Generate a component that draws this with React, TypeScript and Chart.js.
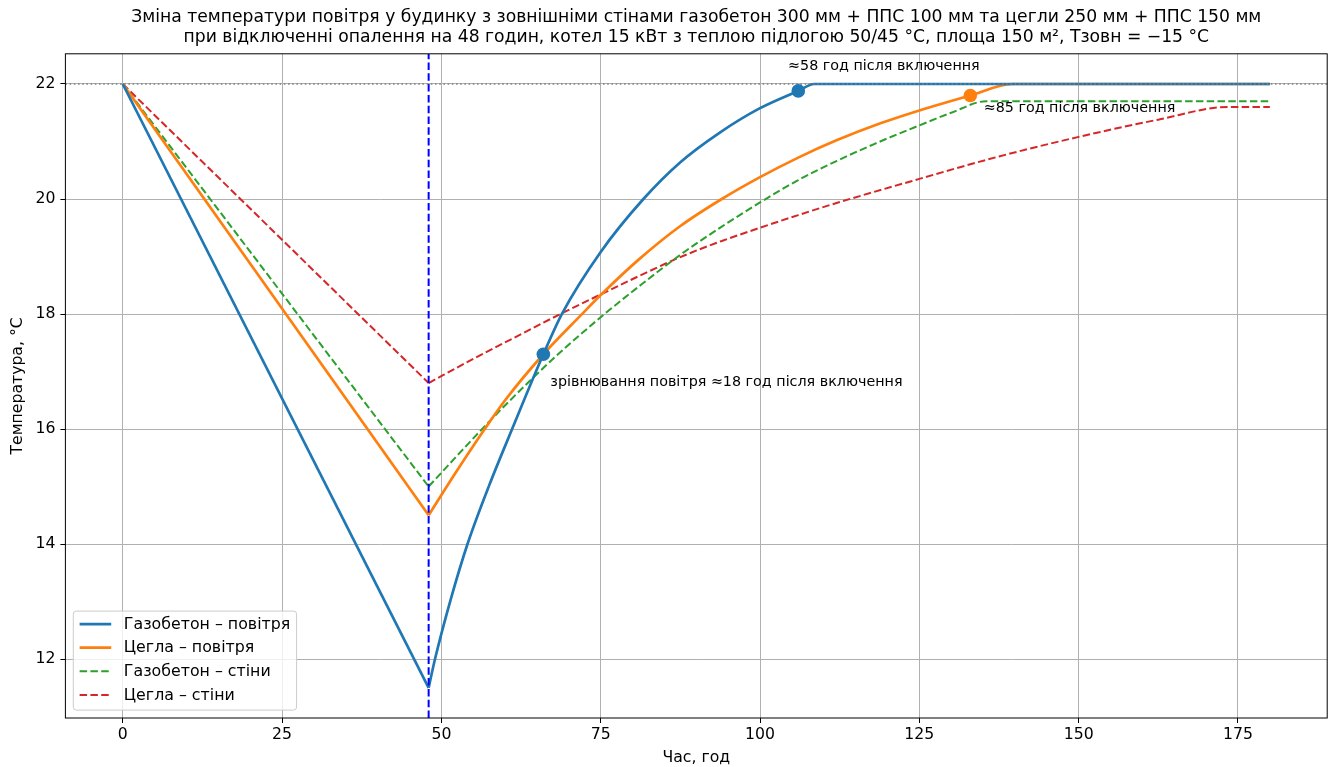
import React, { useEffect, useRef } from "react";
import { Chart, registerables } from "chart.js";

Chart.register(...registerables);

// ---------- text ----------
const titleLines = [
  "Зміна температури повітря у будинку з зовнішніми стінами газобетон 300 мм + ППС 100 мм та цегли 250 мм + ППС 150 мм",
  "при відключенні опалення на 48 годин, котел 15 кВт з теплою підлогою 50/45 °C, площа 150 м², Тзовн = −15 °C",
];
const xAxisTitle = "Час, год";
const yAxisTitle = "Температура, °C";
const seriesLabels = ["Газобетон – повітря", "Цегла – повітря", "Газобетон – стіни", "Цегла – стіни"];

// ---------- ticks / limits ----------
const xTicks = [0, 25, 50, 75, 100, 125, 150, 175];
const yTicks = [12, 14, 16, 18, 20, 22];
const xMin = -9;
const xMax = 189;
const yMin = 10.975;
const yMax = 22.525;

// ---------- reference values ----------
const targetTemp = 22;
const heatingOffHours = 48;

// ---------- cooling phase (heating off) ----------
const dropHours = [0, 48];
const gasAirDrop = [22, 11.5];
const brickAirDrop = [22, 14.5];
const gasWallDrop = [22, 15.0];
const brickWallDrop = [22, 16.8];

// ---------- heating phase ----------
const gasAirHours = [48, 49, 51.5, 54.1, 57.5, 61.1, 66, 68.9, 75, 81.7, 87.5, 93.75, 100, 106, 108.5, 180];
const gasAirTemps = [11.5, 12.0, 13.05, 14.0, 15.02, 16.0, 17.3, 18.0, 19.08, 20.0, 20.64, 21.16, 21.58, 21.88, 22.0, 22.0];

const brickAirHours = [48, 52, 56.8, 60, 66, 71.9, 75, 81, 87.5, 94, 100, 106, 112, 119, 125, 133, 139.6, 180];
const brickAirTemps = [14.5, 15.2, 16.0, 16.5, 17.3, 17.98, 18.33, 18.95, 19.53, 20.0, 20.38, 20.72, 21.02, 21.32, 21.54, 21.8, 22.0, 22.0];

const gasWallHours = [48, 52, 56.3, 60.7, 64.1, 68, 75.6, 81, 87.5, 94, 100, 106, 112, 118, 125, 130, 135.5, 180];
const gasWallTemps = [15.0, 15.48, 15.99, 16.49, 16.86, 17.27, 18.0, 18.48, 19.03, 19.52, 19.94, 20.33, 20.66, 20.96, 21.28, 21.5, 21.7, 21.7];

const brickWallHours = [48, 55, 62, 68.5, 75, 81, 87.5, 94, 100, 106, 112, 125, 137.5, 150, 162.5, 173.5, 180];
const brickWallTemps = [16.8, 17.22, 17.62, 17.99, 18.34, 18.66, 18.99, 19.27, 19.5, 19.72, 19.93, 20.35, 20.74, 21.08, 21.38, 21.6, 21.6];

// ---------- markers ----------
const gasMarkerHours = [66, 106];
const gasMarkerTemps = [17.3, 21.88];
const brickMarkerHours = [133];
const brickMarkerTemps = [21.8];

// ---------- annotations ----------
const annotationTexts = [
  "≈58 год після включення",
  "≈85 год після включення",
  "зрівнювання повітря ≈18 год після включення",
];
const annotationHours = [104.4, 135.1, 67.1];
const annotationTemps = [22.31, 21.58, 16.82];

const FONT = '"DejaVu Sans", "Noto Sans", sans-serif';
const BLUE = "#1f77b4";
const ORANGE = "#ff7f0e";
const GREEN = "#2ca02c";
const RED = "#d62728";

const TICK_FONT = 15.7;
const LABEL_FONT = 15.7;
const LEGEND_FONT = 15.8;
const ANNOT_FONT = 14.3;
const TITLE_FONT = 17.2;

const pts = (xs: number[], ys: number[]) => xs.map((x, i) => ({ x, y: ys[i] }));

const decorPlugin = {
  id: "decor",
  afterDraw(chart: any) {
    const { ctx, chartArea: ca, scales } = chart;
    const xs = scales.x;
    const ys = scales.y;
    ctx.save();

    // spines
    ctx.strokeStyle = "#000";
    ctx.lineWidth = 1;
    ctx.setLineDash([]);
    ctx.strokeRect(ca.left, ca.top, ca.right - ca.left, ca.bottom - ca.top);

    // title
    ctx.fillStyle = "#000";
    ctx.font = `${TITLE_FONT}px ${FONT}`;
    ctx.textAlign = "center";
    ctx.textBaseline = "middle";
    const cx = (ca.left + ca.right) / 2;
    ctx.fillText(titleLines[0], cx, 18);
    ctx.fillText(titleLines[1], cx, 37.5);

    // annotations
    ctx.font = `${ANNOT_FONT}px ${FONT}`;
    ctx.textAlign = "left";
    annotationTexts.forEach((t, i) => {
      ctx.fillText(t, xs.getPixelForValue(annotationHours[i]), ys.getPixelForValue(annotationTemps[i]));
    });

    // legend
    const fs = LEGEND_FONT;
    const legendColors = [BLUE, ORANGE, GREEN, RED];
    const legendDash = [[], [], [7.5, 3.3], [7.5, 3.3]];
    const legendWidths = [2.7, 2.7, 2, 2];
    ctx.font = `${fs}px ${FONT}`;
    let maxW = 0;
    seriesLabels.forEach((l) => (maxW = Math.max(maxW, ctx.measureText(l).width)));
    const pad = 0.4 * fs;
    const handleLen = 2 * fs;
    const handleGap = 0.8 * fs;
    const bx = ca.left + 0.5 * fs;
    const rowH = 23.6;
    const bh = 99;
    const by = ca.bottom - 0.5 * fs - bh;
    const bw = pad + handleLen + handleGap + maxW + pad;
    ctx.beginPath();
    if (ctx.roundRect) ctx.roundRect(bx, by, bw, bh, 3);
    else ctx.rect(bx, by, bw, bh);
    ctx.fillStyle = "rgba(255,255,255,0.8)";
    ctx.fill();
    ctx.strokeStyle = "#cccccc";
    ctx.lineWidth = 1;
    ctx.stroke();
    seriesLabels.forEach((l, i) => {
      const ry = by + 13 + i * rowH;
      ctx.beginPath();
      ctx.setLineDash(legendDash[i]);
      ctx.strokeStyle = legendColors[i];
      ctx.lineWidth = legendWidths[i];
      ctx.moveTo(bx + pad, ry);
      ctx.lineTo(bx + pad + handleLen, ry);
      ctx.stroke();
      ctx.setLineDash([]);
      ctx.fillStyle = "#000";
      ctx.textAlign = "left";
      ctx.textBaseline = "middle";
      ctx.fillText(l, bx + pad + handleLen + handleGap, ry + 0.5);
    });

    ctx.restore();
  },
};

export default function App() {
  const ref = useRef<HTMLCanvasElement | null>(null);

  useEffect(() => {
    document.body.style.margin = "0";
    const canvas = ref.current;
    if (!canvas) return;

    const solid = (color: string) => ({
      borderColor: color,
      backgroundColor: color,
      borderWidth: 2.7,
      pointRadius: 0,
      fill: false,
      cubicInterpolationMode: "monotone" as const,
      order: 2,
    });
    const dashed = (color: string) => ({
      borderColor: color,
      backgroundColor: color,
      borderWidth: 2,
      borderDash: [7.5, 3.3],
      pointRadius: 0,
      fill: false,
      cubicInterpolationMode: "monotone" as const,
      order: 2,
    });

    const axisCommon = {
      border: { display: false },
      grid: {
        color: "#b0b0b0",
        lineWidth: 1,
        drawTicks: true,
        tickLength: 5,
        tickColor: "#000",
        tickWidth: 1,
      },
    };

    const chart = new Chart(canvas, {
      type: "line",
      data: {
        datasets: [
          // markers (on top)
          {
            data: pts(gasMarkerHours, gasMarkerTemps),
            showLine: false,
            pointRadius: 6.8,
            pointBackgroundColor: BLUE,
            pointBorderColor: BLUE,
            pointBorderWidth: 0,
            order: 0,
          } as any,
          {
            data: pts(brickMarkerHours, brickMarkerTemps),
            showLine: false,
            pointRadius: 6.8,
            pointBackgroundColor: ORANGE,
            pointBorderColor: ORANGE,
            pointBorderWidth: 0,
            order: 0,
          } as any,
          // reference lines
          {
            data: pts([xMin, xMax], [targetTemp, targetTemp]),
            borderColor: "#808080",
            borderWidth: 1.6,
            borderDash: [1.6, 2.6],
            pointRadius: 0,
            order: 1,
          } as any,
          {
            data: pts([heatingOffHours, heatingOffHours], [yMin, yMax]),
            borderColor: "#0000ff",
            borderWidth: 2,
            borderDash: [7.5, 3.3],
            pointRadius: 0,
            order: 1,
          } as any,
          // series
          { label: seriesLabels[0], data: pts(dropHours, gasAirDrop), ...solid(BLUE) },
          { label: seriesLabels[0], data: pts(gasAirHours, gasAirTemps), ...solid(BLUE) },
          { label: seriesLabels[1], data: pts(dropHours, brickAirDrop), ...solid(ORANGE) },
          { label: seriesLabels[1], data: pts(brickAirHours, brickAirTemps), ...solid(ORANGE) },
          { label: seriesLabels[2], data: pts(dropHours, gasWallDrop), ...dashed(GREEN) },
          { label: seriesLabels[2], data: pts(gasWallHours, gasWallTemps), ...dashed(GREEN) },
          { label: seriesLabels[3], data: pts(dropHours, brickWallDrop), ...dashed(RED) },
          { label: seriesLabels[3], data: pts(brickWallHours, brickWallTemps), ...dashed(RED) },
        ] as any,
      },
      options: {
        animation: false,
        responsive: false,
        devicePixelRatio: 1,
        layout: { padding: { top: 53.8, right: 1.4, left: 0, bottom: 0 } },
        plugins: {
          legend: { display: false },
          tooltip: { enabled: false },
          title: { display: false },
        },
        elements: { line: { tension: 0 } },
        scales: {
          x: {
            type: "linear",
            min: xMin,
            max: xMax,
            afterBuildTicks: (scale: any) => {
              scale.ticks = xTicks.map((v) => ({ value: v }));
            },
            afterFit: (scale: any) => {
              scale.height = 49;
            },
            ...axisCommon,
            ticks: {
              color: "#000",
              font: { family: FONT, size: TICK_FONT },
              padding: 2.5,
              maxRotation: 0,
              autoSkip: false,
              callback: (v: any) => String(v),
            },
            title: {
              display: true,
              text: xAxisTitle,
              color: "#000",
              font: { family: FONT, size: LABEL_FONT },
              padding: { top: 0, bottom: 0 },
            },
          },
          y: {
            type: "linear",
            min: yMin,
            max: yMax,
            afterBuildTicks: (scale: any) => {
              scale.ticks = yTicks.map((v) => ({ value: v }));
            },
            afterFit: (scale: any) => {
              scale.width = 65.4;
            },
            ...axisCommon,
            ticks: {
              color: "#000",
              font: { family: FONT, size: TICK_FONT },
              padding: 5,
              autoSkip: false,
              callback: (v: any) => String(v),
            },
            title: {
              display: true,
              text: yAxisTitle,
              color: "#000",
              font: { family: FONT, size: LABEL_FONT },
              padding: { top: 8.5, bottom: 0 },
            },
          },
        },
      } as any,
      plugins: [decorPlugin],
    });

    return () => chart.destroy();
  }, []);

  return (
    <div style={{ position: "absolute", left: 0, top: 0, width: 1334, height: 767, background: "#fff" }}>
      <canvas ref={ref} width={1334} height={767} style={{ width: 1334, height: 767, display: "block" }} />
    </div>
  );
}
